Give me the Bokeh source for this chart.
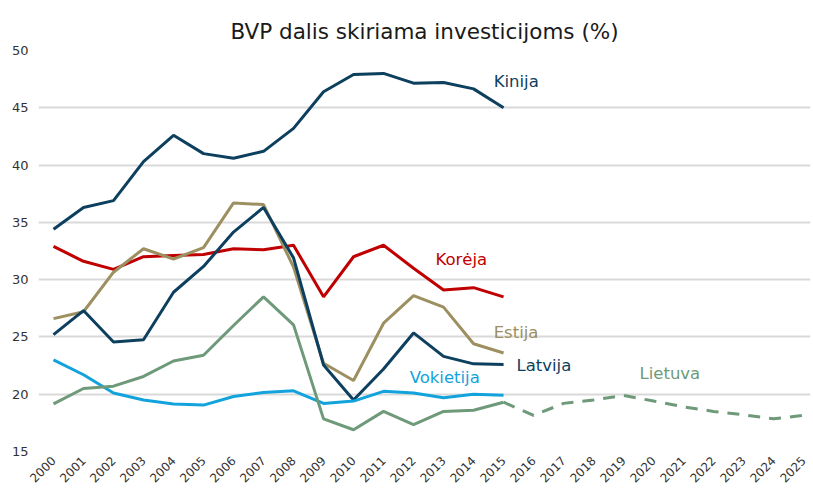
import math
from bokeh.plotting import figure
from bokeh.models import Range1d, FixedTicker, Label
from bokeh.embed import file_html
from bokeh.resources import INLINE

years = [2000, 2001, 2002, 2003, 2004, 2005, 2006, 2007, 2008, 2009, 2010, 2011, 2012, 2013, 2014, 2015]
years_fc = [2015, 2016, 2017, 2018, 2019, 2020, 2021, 2022, 2023, 2024, 2025]
tick_years = [2000, 2001, 2002, 2003, 2004, 2005, 2006, 2007, 2008, 2009, 2010, 2011, 2012,
              2013, 2014, 2015, 2016, 2017, 2018, 2019, 2020, 2021, 2022, 2023, 2024, 2025]

kinija = [34.4, 36.3, 36.9, 40.3, 42.6, 41.0, 40.6, 41.2, 43.2, 46.4, 47.9, 48.0, 47.15, 47.2, 46.65, 45.0]
koreja = [32.9, 31.6, 30.9, 32.0, 32.1, 32.2, 32.7, 32.6, 33.0, 28.5, 32.0, 33.0, 31.0, 29.1, 29.3, 28.5]
estija = [26.6, 27.2, 30.65, 32.7, 31.8, 32.8, 36.7, 36.55, 31.1, 22.7, 21.2, 26.2, 28.6, 27.6, 24.4, 23.6]
latvija = [25.2, 27.3, 24.55, 24.75, 28.9, 31.15, 34.15, 36.3, 31.9, 22.55, 19.5, 22.2, 25.35, 23.3, 22.65, 22.6]
vokietija = [23.0, 21.7, 20.1, 19.5, 19.15, 19.05, 19.8, 20.15, 20.3, 19.2, 19.4, 20.25, 20.1, 19.7, 20.0, 19.9]
lietuva = [19.15, 20.5, 20.7, 21.55, 22.9, 23.4, 26.0, 28.5, 26.05, 17.85, 16.9, 18.5, 17.35, 18.5, 18.6, 19.3]
lietuva_fc = [19.3, 18.15, 19.2, 19.5, 19.9, 19.4, 18.9, 18.5, 18.2, 17.85, 18.15]

TITLE = "BVP dalis skiriama investicijoms (%)"

NAVY = "#0d3f5e"
RED = "#c00000"
KHAKI = "#9c8f60"
BLUE = "#12a3dc"
GREEN = "#6e9a79"

FONT = "DejaVu Sans"

p = figure(width=813, height=493, output_backend="svg", toolbar_location=None,
           x_range=Range1d(1999.5, 2025.23), y_range=Range1d(15, 50),
           min_border_left=38, min_border_right=3, min_border_top=50, min_border_bottom=42)
p.outline_line_color = None
p.background_fill_color = "white"
p.border_fill_color = "white"

p.title.text = TITLE
p.title.align = "center"
p.title.vertical_align = "top"
p.title.text_font = FONT
p.title.text_font_size = "21.5px"
p.title.text_font_style = "normal"
p.title.text_color = "#1a1a1a"

p.xgrid.grid_line_color = None
p.ygrid.grid_line_color = "#d9d9d9"
p.ygrid.grid_line_width = 2
p.yaxis.ticker = FixedTicker(ticks=[15, 20, 25, 30, 35, 40, 45, 50])
p.xaxis.ticker = FixedTicker(ticks=tick_years)
p.xaxis.major_label_orientation = math.pi / 4
for ax in (p.xaxis[0], p.yaxis[0]):
    ax.axis_line_color = None
    ax.major_tick_line_color = None
    ax.minor_tick_line_color = None
    ax.major_tick_out = 0
    ax.major_tick_in = 0
    ax.minor_tick_out = 0
    ax.minor_tick_in = 0
    ax.major_label_text_font = FONT
    ax.major_label_text_color = "#333333"
p.yaxis.major_label_text_font_size = "13px"
p.yaxis.major_label_standoff = 10
p.xaxis.major_label_text_font_size = "12px"
p.xaxis.major_label_standoff = 7

W = 3
p.line(years, kinija, line_color=NAVY, line_width=W)
p.line(years, koreja, line_color=RED, line_width=W)
p.line(years, estija, line_color=KHAKI, line_width=W)
p.line(years, latvija, line_color=NAVY, line_width=W)
p.line(years, vokietija, line_color=BLUE, line_width=W)
p.line(years, lietuva, line_color=GREEN, line_width=W)
p.line(years_fc, lietuva_fc, line_color=GREEN, line_width=W, line_dash="12 9")

labels = [
    ("Kinija", 2014.67, 47.32, NAVY),
    ("Korėja", 2012.73, 31.76, RED),
    ("Estija", 2014.67, 25.41, KHAKI),
    ("Latvija", 2015.43, 22.5, NAVY),
    ("Vokietija", 2011.87, 21.49, BLUE),
    ("Lietuva", 2019.53, 21.8, GREEN),
]
for txt, lx, ly, col in labels:
    p.add_layout(Label(x=lx, y=ly, text=txt, text_color=col, text_font=FONT,
                       text_font_size="16.5px", text_baseline="middle", text_align="left"))

open("out.html", "w").write(file_html(p, INLINE))
